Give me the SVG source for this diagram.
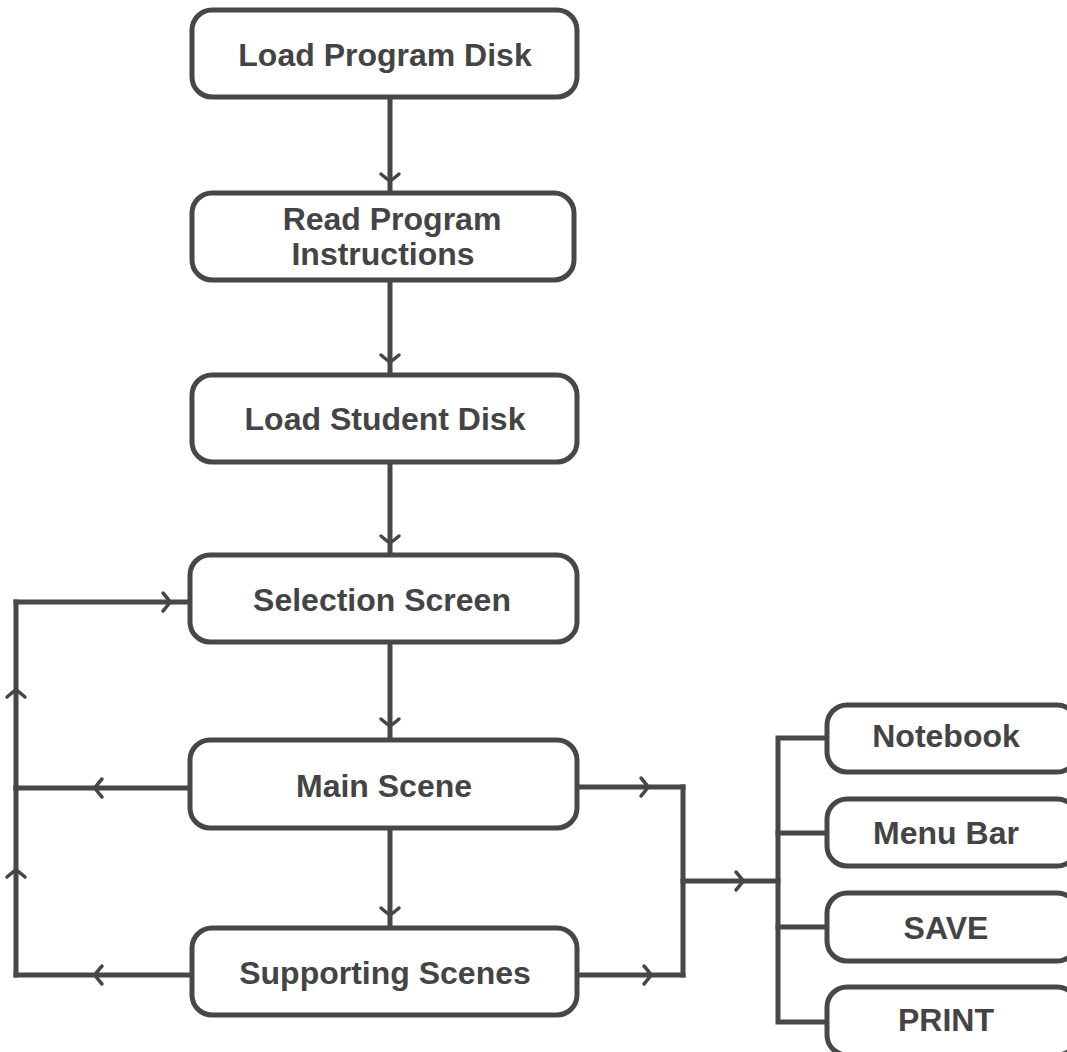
<svg xmlns="http://www.w3.org/2000/svg" width="1067" height="1052" viewBox="0 0 1067 1052">
<style>
.box{fill:#fff;stroke:#474747;stroke-width:5}
.lbl{font-family:"Liberation Sans",Arial,sans-serif;font-weight:bold;font-size:32px;fill:#444;text-anchor:middle;dominant-baseline:central}
.con{fill:none;stroke:#474747;stroke-width:5;stroke-linecap:square;marker-mid:url(#chev)}
.bus{fill:none;stroke:#474747;stroke-width:5;stroke-linecap:square}
</style>
<defs>
<marker id="chev" markerUnits="userSpaceOnUse" viewBox="-12 -12 24 24" markerWidth="24" markerHeight="24" refX="0" refY="0" orient="auto">
<path d="M-7,-9 Q-1,-2 0,0 Q-1,2 -7,9" fill="none" stroke="#474747" stroke-width="3.5" stroke-linecap="round"/>
</marker>
</defs>
<rect width="1067" height="1052" fill="#fff"/>
<g id="connectors">
<path class="con" d="M390,97 L390,181 L390,193"/>
<path class="con" d="M390,280 L390,362 L390,375"/>
<path class="con" d="M390,462 L390,543 L390,555"/>
<path class="con" d="M390,642 L390,726 L390,740"/>
<path class="con" d="M390,828 L390,915 L390,928"/>
<path class="con" d="M190,788 L95,788 L16,788"/>
<path class="con" d="M192,975 L95,975 L16,975"/>
<path class="con" d="M16,975 L16,870 L16,788"/>
<path class="con" d="M16,788 L16,690 L16,602"/>
<path class="con" d="M16,602 L170,602 L190,602"/>
<path class="con" d="M577,787 L648,787 L683,787"/>
<path class="con" d="M577,975 L651,975 L683,975"/>
<path class="bus" d="M683,787 L683,975"/>
<path class="con" d="M683,881 L743,881 L778,881"/>
<path class="bus" d="M827,738 L778,738 L778,1022 L827,1022"/>
<path class="bus" d="M778,833 L827,833"/>
<path class="bus" d="M778,927 L827,927"/>
</g>
<g id="n1"><rect class="box" x="192" y="10" width="385" height="87" rx="20"/><text class="lbl" x="385" y="55">Load Program Disk</text></g>
<g id="n2"><rect class="box" x="192" y="193" width="382" height="87" rx="20"/><text class="lbl" x="392" y="219">Read Program</text><text class="lbl" x="383" y="254">Instructions</text></g>
<g id="n3"><rect class="box" x="192" y="375" width="385" height="87" rx="20"/><text class="lbl" x="385" y="419">Load Student Disk</text></g>
<g id="n4"><rect class="box" x="190" y="555" width="387" height="87" rx="20"/><text class="lbl" x="382" y="600">Selection Screen</text></g>
<g id="n5"><rect class="box" x="190" y="740" width="387" height="88" rx="20"/><text class="lbl" x="384" y="786">Main Scene</text></g>
<g id="n6"><rect class="box" x="192" y="928" width="385" height="87" rx="20"/><text class="lbl" x="385" y="973">Supporting Scenes</text></g>
<g id="n7"><rect class="box" x="827" y="705" width="250" height="67" rx="20"/><text class="lbl" x="946" y="736">Notebook</text></g>
<g id="n8"><rect class="box" x="827" y="799" width="250" height="67" rx="20"/><text class="lbl" x="946" y="833">Menu Bar</text></g>
<g id="n9"><rect class="box" x="827" y="893" width="250" height="68" rx="20"/><text class="lbl" x="946" y="928">SAVE</text></g>
<g id="n10"><rect class="box" x="827" y="987" width="250" height="68" rx="20"/><text class="lbl" x="946" y="1020">PRINT</text></g>
</svg>
